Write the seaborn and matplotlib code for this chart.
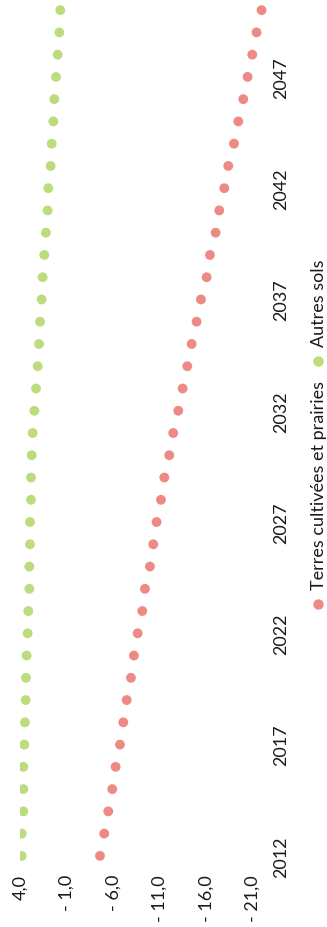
import numpy as np
import pandas as pd
import matplotlib.pyplot as plt
import seaborn as sns
from matplotlib.lines import Line2D

# years on the (rotated) category axis
years = list(range(2012, 2051))

# values per series
autres_sols = [3.87, 3.87, 3.70, 3.70, 3.70, 3.59, 3.52, 3.44, 3.41, 3.34,
               3.23, 3.16, 3.05, 3.05, 2.98, 2.98, 2.87, 2.87, 2.80, 2.69,
               2.51, 2.33, 2.15, 2.01, 1.90, 1.72, 1.62, 1.44, 1.26, 1.08,
               1.01, 0.76, 0.65, 0.47, 0.36, 0.18, 0.00, -0.18, -0.28]
terres = [-4.55, -5.01, -5.44, -5.87, -6.23, -6.70, -7.06, -7.42, -7.88, -8.20,
          -8.60, -9.10, -9.39, -9.92, -10.28, -10.64, -11.11, -11.47, -12.00, -12.43,
          -12.97, -13.44, -13.94, -14.41, -14.94, -15.41, -16.02, -16.38, -16.99, -17.38,
          -17.92, -18.35, -18.96, -19.43, -19.96, -20.43, -20.93, -21.39, -21.93]

series_names = ["Terres cultivées et prairies", "Autres sols"]
value_ticks = [4, -1, -6, -11, -16, -21]
value_labels = ["4,0", "- 1,0", "- 6,0", "- 11,0", "- 16,0", "- 21,0"]
year_ticks = [2012, 2017, 2022, 2027, 2032, 2037, 2042, 2047]

colors = {"Terres cultivées et prairies": "#ee8a86", "Autres sols": "#bcdc7e"}

df = pd.DataFrame({
    "annee": years * 2,
    "valeur": terres + autres_sols,
    "serie": [series_names[0]] * len(years) + [series_names[1]] * len(years),
})

sns.set_theme(style="white")
plt.rcParams["font.family"] = ["Lato", "DejaVu Sans"]
txt_color = "#1a1a1a"
fs = 13

fig = plt.figure(figsize=(3.27, 9.28), dpi=100)
ax = fig.add_axes([20.5 / 327, 60 / 928, 251 / 327, 868 / 928])

# chart is drawn rotated: values run horizontally, years vertically
sns.scatterplot(data=df, x="valeur", y="annee", hue="serie", palette=colors,
                s=50, edgecolor="none", legend=False, ax=ax)

ax.set_xlim(4, -23)
ax.set_ylim(2011.5, 2050.5)
ax.set_xlabel("")
ax.set_ylabel("")
for sp in ax.spines.values():
    sp.set_visible(False)

ax.set_xticks(value_ticks)
ax.set_xticklabels(value_labels, rotation=90, fontsize=fs, color=txt_color)
ax.yaxis.tick_right()
ax.set_yticks(year_ticks)
ax.set_yticklabels([str(y) for y in year_ticks], rotation=90, va="center",
                   fontsize=fs, color=txt_color)
ax.tick_params(axis="x", length=0, pad=5)
ax.tick_params(axis="y", length=0, pad=1)

# rotated legend along the right edge
legend_pos = {"Terres cultivées et prairies": 0.348, "Autres sols": 0.610}
for name in series_names:
    yy = legend_pos[name]
    fig.add_artist(Line2D([0.972], [yy], marker="o", markersize=7.5, linestyle="none",
                          color=colors[name], markeredgecolor="none",
                          transform=fig.transFigure))
    fig.text(0.975, yy + 0.016, name, rotation=90, ha="center", va="bottom",
             fontsize=fs, color=txt_color)

fig.savefig("out.png", dpi=100)
